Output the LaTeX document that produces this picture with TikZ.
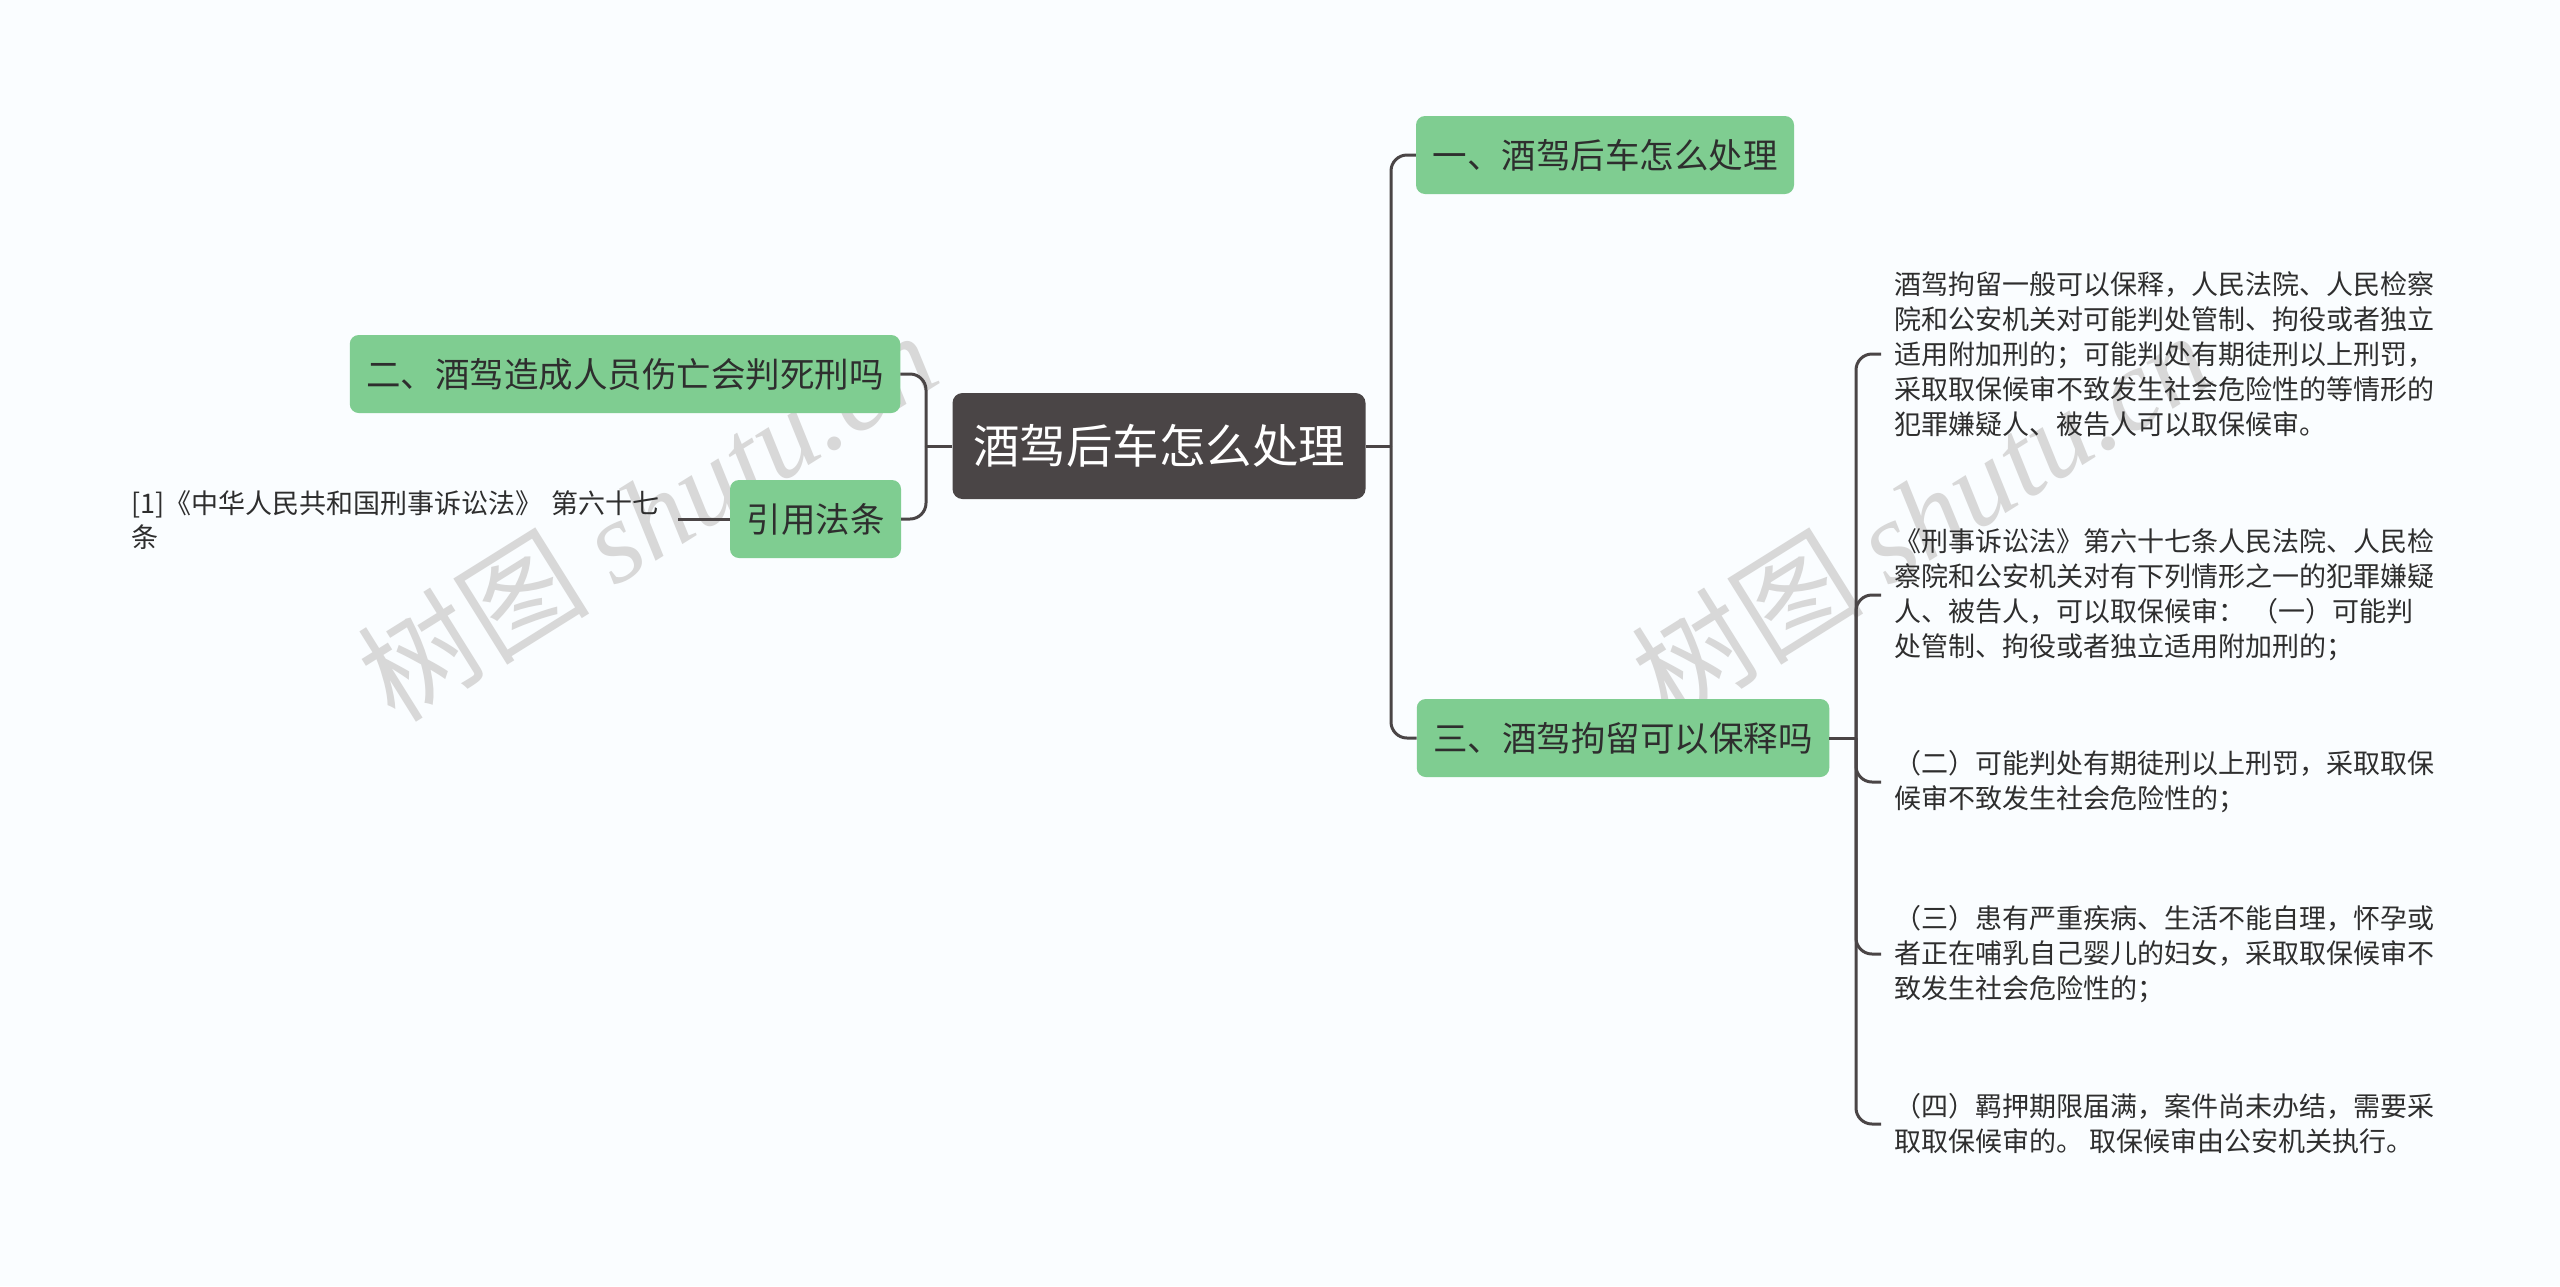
\documentclass[tikz,border=0pt]{standalone}
\usepackage{fontspec}
\setmainfont{Noto Sans CJK SC}
\newfontfamily\wmserif{Liberation Serif}
\definecolor{bgc}{HTML}{FAFDFF}
\definecolor{linec}{HTML}{4A4546}
\definecolor{rootc}{HTML}{4A4546}
\definecolor{greenc}{HTML}{7FCD91}
\definecolor{txtc}{HTML}{2E2E2E}
\definecolor{wmc}{HTML}{D8D8D8}
\begin{document}
\begin{tikzpicture}[x=1pt,y=-1pt,
 conn/.style={draw=linec,line width=3pt,rounded corners=16pt},
 rootbox/.style={fill=rootc,rounded corners=10pt,text=white,font=\fontsize{46.5}{54}\selectfont,minimum width=413pt,minimum height=106pt,inner sep=0pt},
 topicbox/.style={fill=greenc,rounded corners=9pt,text=txtc,font=\fontsize{34.5}{40}\selectfont,minimum height=78pt,inner xsep=16.5pt,inner ysep=0pt},
 leafbox/.style={text=txtc,font=\fontsize{27}{35}\selectfont,align=left,inner xsep=13pt,inner ysep=0pt,anchor=west},
 wm/.style={text=wmc,rotate=32,font=\fontsize{116}{116}\selectfont,inner sep=0pt}]
\fill[bgc] (0,0) rectangle (2560,1286);
\useasboundingbox (0,0) rectangle (2560,1286);
% watermarks
\node[wm] (wm1) at (647,515) {树图 {\wmserif\itshape shutu.cn}};
\node[wm] (wm2) at (1921,515) {树图 {\wmserif\itshape shutu.cn}};
% nodes
\node[rootbox] (root) at (1159,446) {酒驾后车怎么处理};
\node[topicbox] (n1) at (1605,155) {一、酒驾后车怎么处理};
\node[topicbox] (n3) at (1623,738) {三、酒驾拘留可以保释吗};
\node[topicbox] (n2) at (625,374) {二、酒驾造成人员伤亡会判死刑吗};
\node[topicbox] (ref) at (815.5,519) {引用法条};
\node[text=txtc,font=\fontsize{27}{34}\selectfont,align=left,inner sep=0pt,text width=547pt,anchor=west] (cite) at (131,520) {[1]《中华人民共和国刑事诉讼法》 第六十七\\条};
\node[leafbox] (l1) at (1881,354) {酒驾拘留一般可以保释，人民法院、人民检察\\院和公安机关对可能判处管制、拘役或者独立\\适用附加刑的；可能判处有期徒刑以上刑罚，\\采取取保候审不致发生社会危险性的等情形的\\犯罪嫌疑人、被告人可以取保候审。};
\node[leafbox] (l2) at (1881,595) {《刑事诉讼法》第六十七条人民法院、人民检\\察院和公安机关对有下列情形之一的犯罪嫌疑\\人、被告人，可以取保候审： （一）可能判\\处管制、拘役或者独立适用附加刑的；};
\node[leafbox] (l3) at (1881,782) {（二）可能判处有期徒刑以上刑罚，采取取保\\候审不致发生社会危险性的；};
\node[leafbox] (l4) at (1881,954) {（三）患有严重疾病、生活不能自理，怀孕或\\者正在哺乳自己婴儿的妇女，采取取保候审不\\致发生社会危险性的；};
\node[leafbox] (l5) at (1881,1124) {（四）羁押期限届满，案件尚未办结，需要采\\取取保候审的。 取保候审由公安机关执行。};
% junctions
\coordinate (jl) at (926,446);
\coordinate (jr) at (1391,446);
\coordinate (j3) at (1856,738);
% connectors
\draw[conn] (root.west) -- (jl);
\draw[conn] (n2.east) -| (jl);
\draw[conn] (ref.east) -| (jl);
\draw[conn] (root.east) -- (jr);
\draw[conn] (n1.west) -| (jr);
\draw[conn] (n3.west) -| (jr);
\draw[conn] (ref.west) -- (cite.east |- ref.west);
\draw[conn] (n3.east) -- (j3);
\draw[conn] (l1.west) -| (j3);
\draw[conn] (l2.west) -| (j3);
\draw[conn] (l3.west) -| (j3);
\draw[conn] (l4.west) -| (j3);
\draw[conn] (l5.west) -| (j3);
\end{tikzpicture}
\end{document}
